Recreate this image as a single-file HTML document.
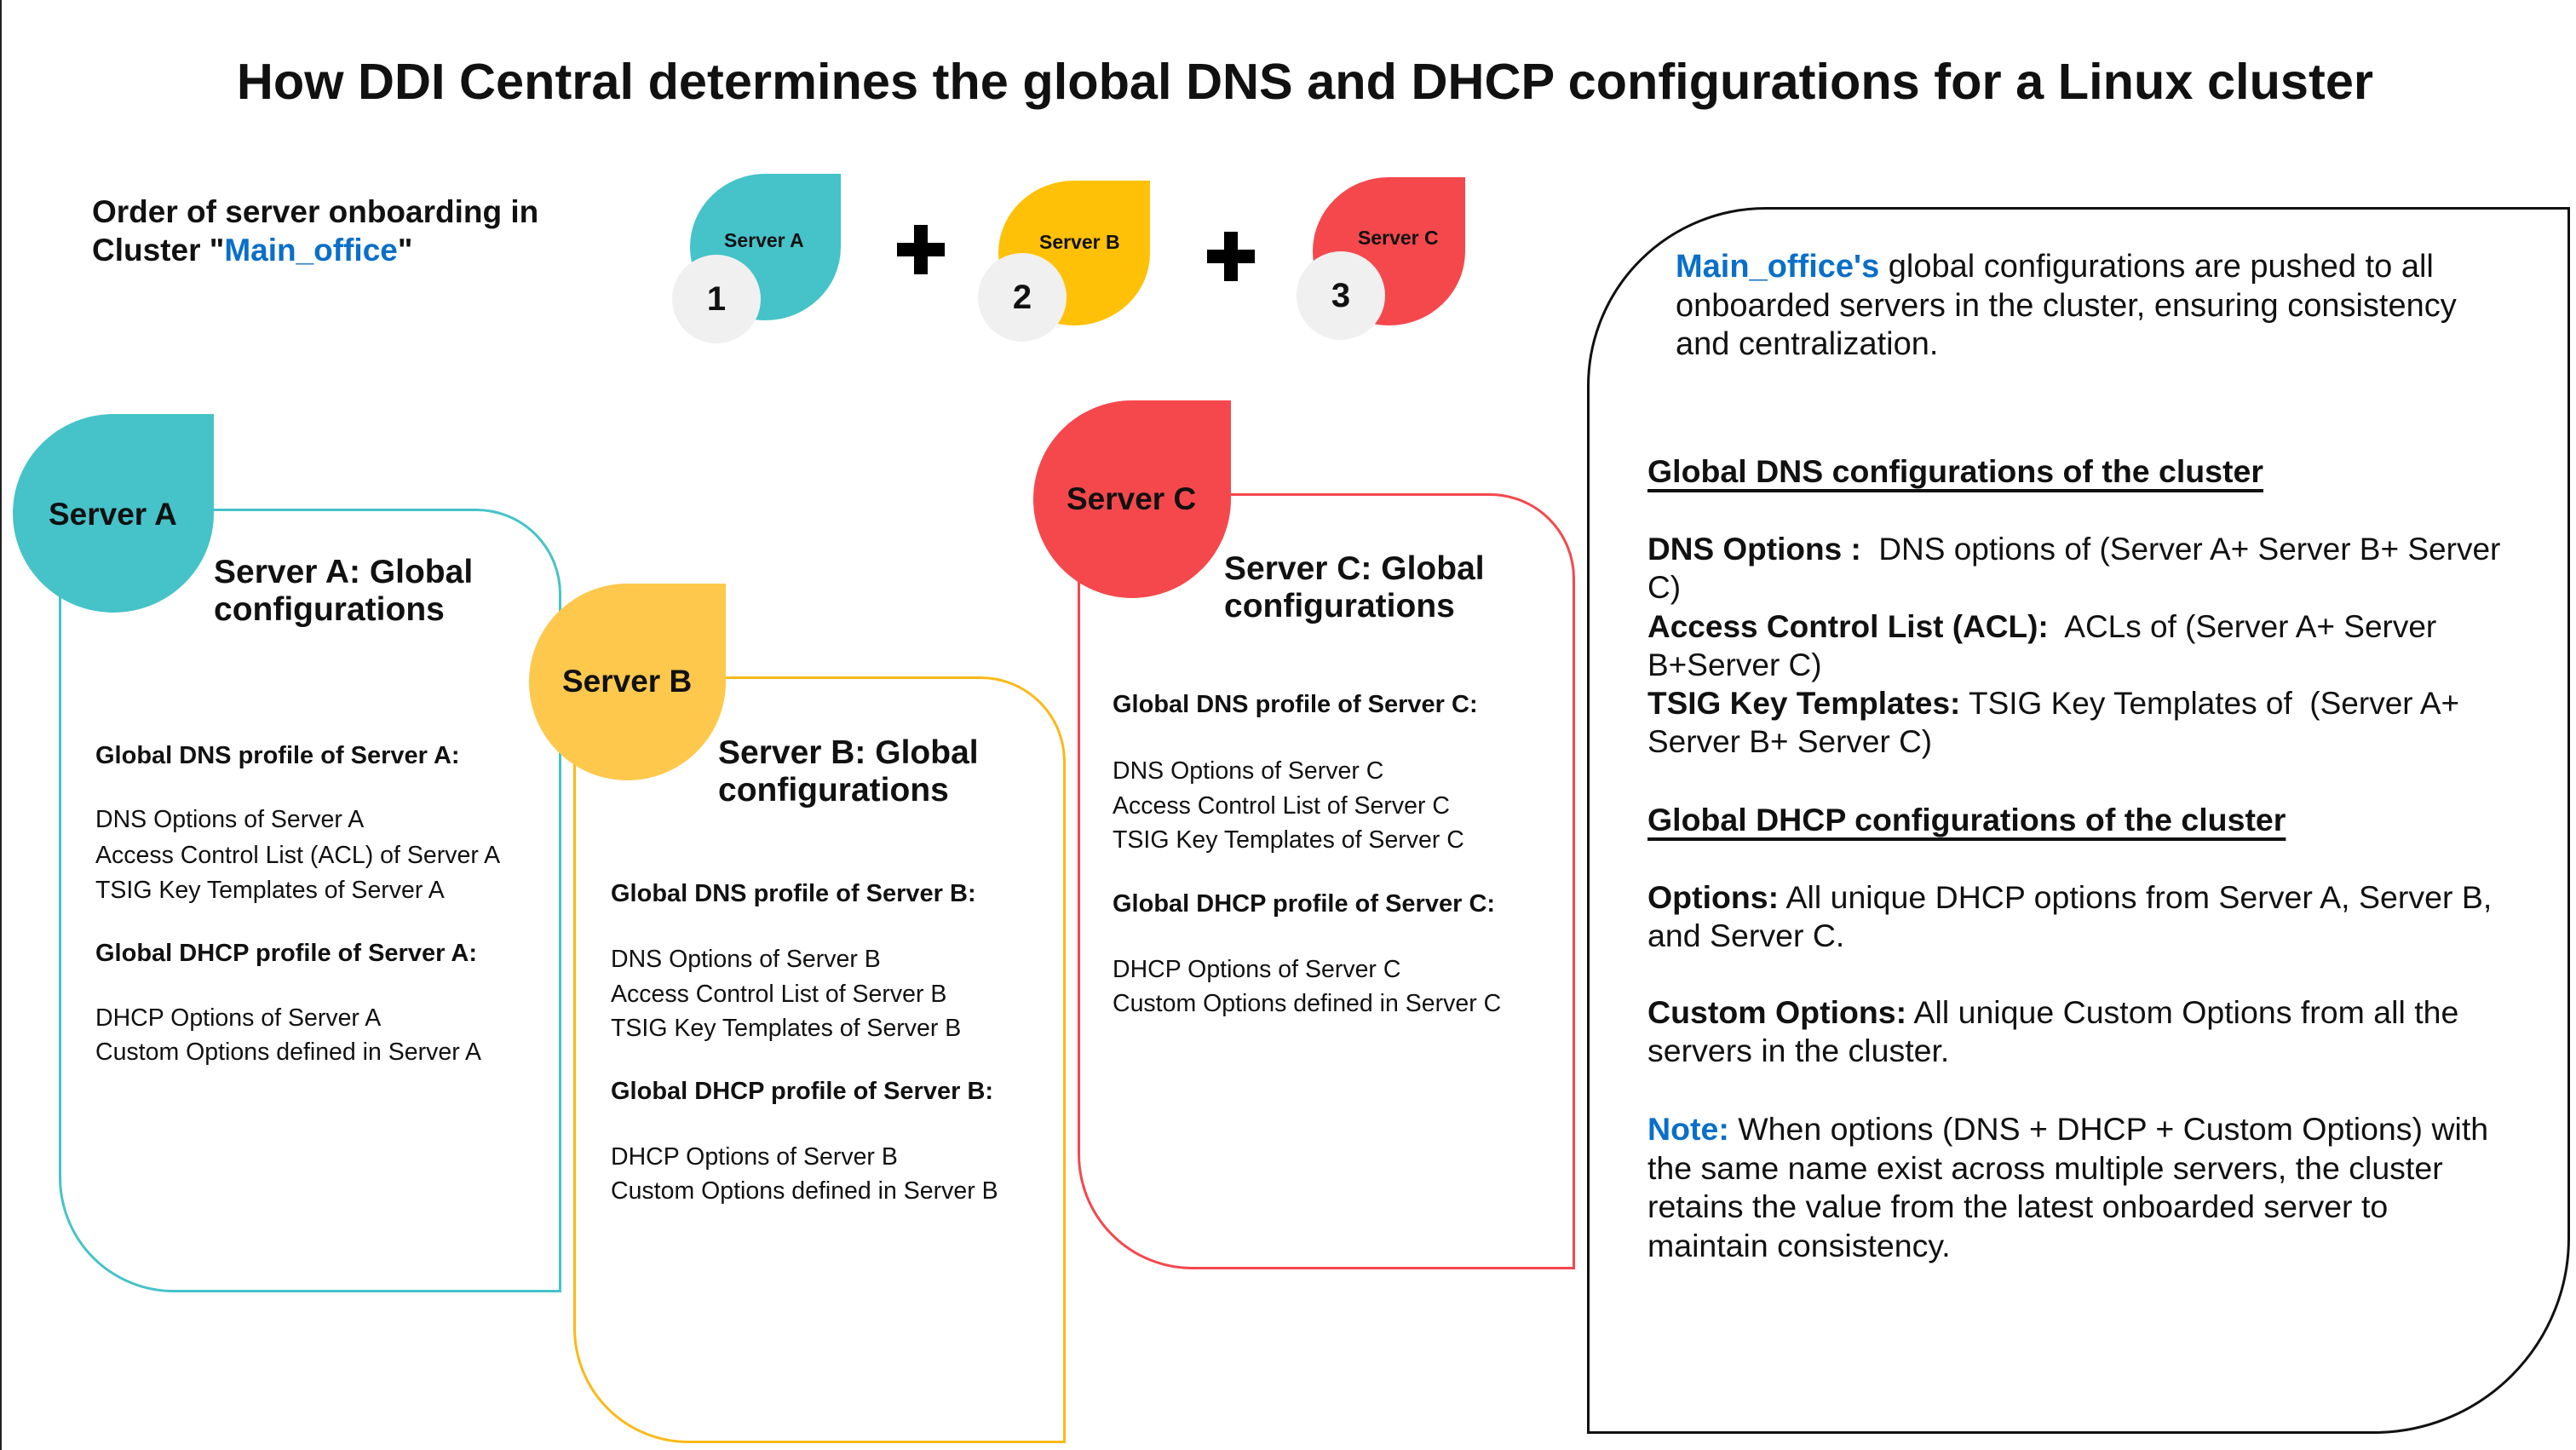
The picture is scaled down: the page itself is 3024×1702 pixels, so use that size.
<!DOCTYPE html>
<html><head><meta charset="utf-8"><style>
html,body{margin:0;padding:0;}
body{width:3024px;height:1702px;position:relative;background:#fff;overflow:hidden;font-family:"Liberation Sans",sans-serif;color:#111;}
.t{position:absolute;white-space:nowrap;line-height:1.2;}
.b{font-weight:bold;}
.drop{position:absolute;border-radius:50% 0 50% 50%;}
.num{position:absolute;border-radius:50%;background:#f0f0f0;font-weight:bold;font-size:40px;display:flex;align-items:center;justify-content:center;color:#111;}
.box{position:absolute;box-sizing:border-box;}
.blue{color:#0a6fc9;}
.u{text-decoration:underline;text-decoration-thickness:4px;text-underline-offset:8px;}
.plus{position:absolute;}
.plus:before,.plus:after{content:"";position:absolute;background:#000;}
.plus:before{left:0;top:21px;width:56px;height:16px;}
.plus:after{left:20px;top:0;width:16px;height:58px;}
</style></head><body>
<div style="position:absolute;left:0;top:0;width:2px;height:1702px;background:#222"></div>

<div class="t b" style="left:0;width:3064px;text-align:center;top:60px;font-size:59.5px;">How DDI Central determines the global DNS and DHCP configurations for a Linux cluster</div>

<div class="t b" style="left:108px;top:227px;font-size:37px;">Order of server onboarding in</div>
<div class="t b" style="left:108px;top:272px;font-size:37px;">Cluster "<span class="blue">Main_office</span>"</div>

<div class="drop" style="left:810px;top:204px;width:177px;height:172px;background:#45c3c9"></div>
<div class="t b" style="left:850px;top:269px;font-size:23px;">Server A</div>
<div class="num" style="left:789px;top:299px;width:104px;height:104px;">1</div>
<div class="plus" style="left:1053px;top:264px;"></div>

<div class="drop" style="left:1172px;top:212px;width:178px;height:170px;background:#ffc107"></div>
<div class="t b" style="left:1220px;top:271px;font-size:23px;">Server B</div>
<div class="num" style="left:1148px;top:297px;width:104px;height:104px;">2</div>
<div class="plus" style="left:1417px;top:272px;"></div>

<div class="drop" style="left:1541px;top:208px;width:179px;height:174px;background:#f4484d"></div>
<div class="t b" style="left:1594px;top:266px;font-size:23px;">Server C</div>
<div class="num" style="left:1522px;top:295px;width:104px;height:104px;">3</div>

<!-- Box A -->
<div class="box" style="left:69px;top:597px;width:590px;height:920px;border:3px solid #45c3c9;border-radius:0 100px 0 135px;"></div>
<div class="drop" style="left:15px;top:486px;width:236px;height:233px;background:#45c3c9"></div>
<div class="t b" style="left:57px;top:582px;font-size:37px;">Server A</div>
<div class="t b" style="left:251px;top:650px;font-size:39px;line-height:44px;">Server A: Global<br>configurations</div>
<div class="t b" style="left:112px;top:870px;font-size:29px;">Global DNS profile of Server A:</div>
<div class="t" style="left:112px;top:942px;font-size:28.5px;line-height:41.5px;">DNS Options of Server A<br>Access Control List (ACL) of Server A<br>TSIG Key Templates of Server A</div>
<div class="t b" style="left:112px;top:1102px;font-size:29px;">Global DHCP profile of Server A:</div>
<div class="t" style="left:112px;top:1175px;font-size:28.5px;line-height:40px;">DHCP Options of Server A<br>Custom Options defined in Server A</div>

<!-- Box B -->
<div class="box" style="left:673px;top:794px;width:578px;height:900px;border:3px solid #fbb918;border-radius:0 100px 0 135px;"></div>
<div class="drop" style="left:621px;top:685px;width:231px;height:231px;background:#fec84d"></div>
<div class="t b" style="left:660px;top:778px;font-size:37px;">Server B</div>
<div class="t b" style="left:843px;top:862px;font-size:39px;line-height:44px;">Server B: Global<br>configurations</div>
<div class="t b" style="left:717px;top:1032px;font-size:29px;">Global DNS profile of Server B:</div>
<div class="t" style="left:717px;top:1106px;font-size:28.5px;line-height:40.5px;">DNS Options of Server B<br>Access Control List of Server B<br>TSIG Key Templates of Server B</div>
<div class="t b" style="left:717px;top:1264px;font-size:29px;">Global DHCP profile of Server B:</div>
<div class="t" style="left:717px;top:1338px;font-size:28.5px;line-height:40px;">DHCP Options of Server B<br>Custom Options defined in Server B</div>

<!-- Box C -->
<div class="box" style="left:1265px;top:579px;width:584px;height:911px;border:3px solid #f4484d;border-radius:0 100px 0 135px;"></div>
<div class="drop" style="left:1213px;top:470px;width:232px;height:232px;background:#f4484d"></div>
<div class="t b" style="left:1252px;top:564px;font-size:37px;">Server C</div>
<div class="t b" style="left:1437px;top:646px;font-size:39px;line-height:44px;">Server C: Global<br>configurations</div>
<div class="t b" style="left:1306px;top:810px;font-size:29px;">Global DNS profile of Server C:</div>
<div class="t" style="left:1306px;top:885px;font-size:28.5px;line-height:40.5px;">DNS Options of Server C<br>Access Control List of Server C<br>TSIG Key Templates of Server C</div>
<div class="t b" style="left:1306px;top:1044px;font-size:29px;">Global DHCP profile of Server C:</div>
<div class="t" style="left:1306px;top:1118px;font-size:28.5px;line-height:40px;">DHCP Options of Server C<br>Custom Options defined in Server C</div>

<!-- Right box -->
<div class="box" style="left:1863px;top:243px;width:1154px;height:1440px;border:3px solid #111;border-radius:210px 0 230px 0;"></div>
<div class="t" style="left:1967px;top:291px;font-size:38px;line-height:45.5px;"><span class="b blue">Main_office's</span> global configurations are pushed to all<br>onboarded servers in the cluster, ensuring consistency<br>and centralization.</div>
<div class="t b u" style="left:1934px;top:531px;font-size:37.5px;">Global DNS configurations of the cluster</div>
<div class="t" style="left:1934px;top:622px;font-size:37px;line-height:45.3px;"><b>DNS Options :</b>&nbsp; DNS options of (Server A+ Server B+ Server<br>C)<br><b>Access Control List (ACL):</b>&nbsp; ACLs of (Server A+ Server<br>B+Server C)<br><b>TSIG Key Templates:</b> TSIG Key Templates of&nbsp; (Server A+<br>Server B+ Server C)</div>
<div class="t b u" style="left:1934px;top:940px;font-size:37.5px;">Global DHCP configurations of the cluster</div>
<div class="t" style="left:1934px;top:1031px;font-size:37.5px;line-height:45px;"><b>Options:</b> All unique DHCP options from Server A, Server B,<br>and Server C.</div>
<div class="t" style="left:1934px;top:1166px;font-size:37.5px;line-height:45px;"><b>Custom Options:</b> All unique Custom Options from all the<br>servers in the cluster.</div>
<div class="t" style="left:1934px;top:1303px;font-size:37.5px;line-height:45.7px;"><b class="blue">Note:</b> When options (DNS + DHCP + Custom Options) with<br>the same name exist across multiple servers, the cluster<br>retains the value from the latest onboarded server to<br>maintain consistency.</div>
</body></html>
